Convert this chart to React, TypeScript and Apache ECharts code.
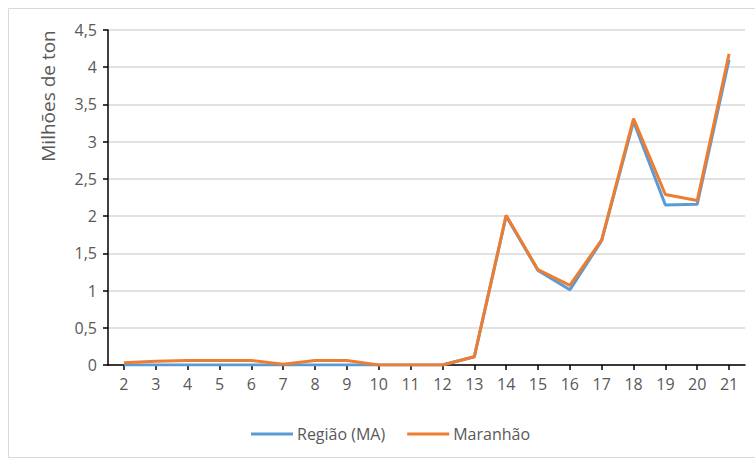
import React, { useEffect, useRef } from "react";
import * as echarts from "echarts";

// Years (category labels along the x axis)
const categories = ["2", "3", "4", "5", "6", "7", "8", "9", "10", "11", "12", "13", "14", "15", "16", "17", "18", "19", "20", "21"];

// Production, in millions of tonnes
const regiaoMA = [0, 0, 0, 0, 0, 0, 0, 0, 0, 0, 0, 0.11, 2.0, 1.27, 1.01, 1.67, 3.27, 2.15, 2.16, 4.1];
const maranhao = [0.03, 0.05, 0.06, 0.06, 0.06, 0.01, 0.06, 0.06, 0, 0, 0, 0.11, 2.01, 1.28, 1.07, 1.68, 3.31, 2.29, 2.21, 4.18];

const seriesNames = ["Região (MA)", "Maranhão"];
const yAxisTitle = "Milhões de ton";

const FONT = "'Open Sans', 'Noto Sans', sans-serif";
const GREY = "#595959";

export default function App() {
  const ref = useRef<HTMLDivElement>(null);

  useEffect(() => {
    if (!ref.current) return;
    const chart = echarts.init(ref.current, undefined, { renderer: "svg" });
    chart.setOption({
      animation: false,
      backgroundColor: "#ffffff",
      textStyle: { fontFamily: FONT },
      grid: { left: 108, right: 10, top: 30, bottom: 95, containLabel: false },
      graphic: [
        {
          type: "rect",
          shape: { x: 8.5, y: 8.5, width: 780, height: 449 },
          style: { fill: "none", stroke: "#d9d9d9", lineWidth: 1 },
          silent: true,
        },
        {
          type: "text",
          x: 48,
          y: 96,
          rotation: Math.PI / 2,
          style: {
            text: yAxisTitle,
            fontFamily: FONT,
            fontSize: 19,
            fill: GREY,
            align: "center",
            verticalAlign: "middle",
          },
        },
      ],
      legend: {
        left: 246,
        top: 421,
        itemWidth: 42,
        itemHeight: 3,
        itemGap: 22,
        icon: "rect",
        textStyle: { fontFamily: FONT, fontSize: 16, color: GREY, padding: [0, 0, 0, -1] },
        data: seriesNames,
      },
      xAxis: {
        type: "category",
        data: categories,
        boundaryGap: true,
        axisLine: { show: true, lineStyle: { color: "#000000", width: 1.5 } },
        axisTick: { show: true, alignWithLabel: true, length: 5, lineStyle: { color: "#000000", width: 1.5 } },
        axisLabel: { color: GREY, fontSize: 16, fontFamily: FONT, margin: 11 },
        splitLine: { show: false },
      },
      yAxis: {
        type: "value",
        min: 0,
        max: 4.5,
        interval: 0.5,
        axisLine: { show: true, lineStyle: { color: "#000000", width: 1.5 } },
        axisTick: { show: true, length: 5, lineStyle: { color: "#000000", width: 1.5 } },
        axisLabel: {
          color: GREY,
          fontSize: 16,
          fontFamily: FONT,
          margin: 11,
          formatter: (v: number) => String(v).replace(".", ","),
        },
        splitLine: { show: true, lineStyle: { color: "#d9d9d9", width: 1.5 } },
      },
      series: [
        {
          name: seriesNames[0],
          type: "line",
          data: regiaoMA,
          showSymbol: false,
          symbol: "none",
          lineStyle: { color: "#5b9bd5", width: 3 },
          itemStyle: { color: "#5b9bd5" },
        },
        {
          name: seriesNames[1],
          type: "line",
          data: maranhao,
          showSymbol: false,
          symbol: "none",
          lineStyle: { color: "#ed7d31", width: 3 },
          itemStyle: { color: "#ed7d31" },
        },
      ],
    });
    return () => chart.dispose();
  }, []);

  return (
    <div
      ref={ref}
      style={{ position: "fixed", left: 0, top: 0, width: 755, height: 460 }}
    />
  );
}
